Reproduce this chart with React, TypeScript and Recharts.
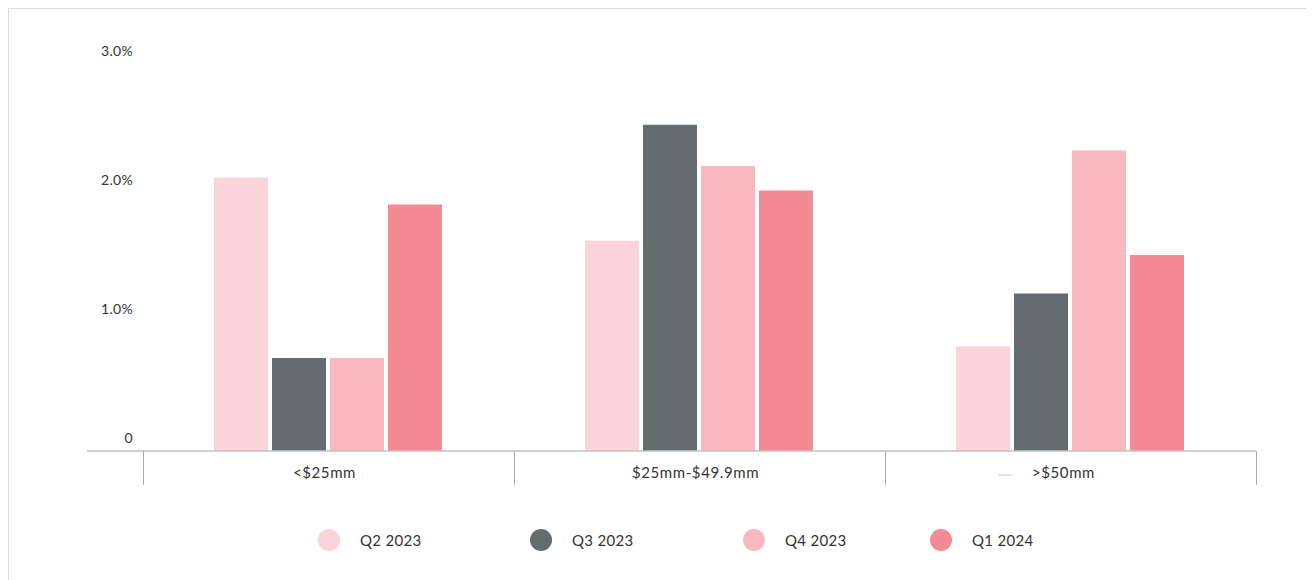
import React from "react";
import { BarChart, Bar, XAxis, YAxis, Legend } from "recharts";

// deal size buckets and quarterly rates (%)
const categories = ["<$25mm", "$25mm-$49.9mm", ">$50mm"];
const q2_2023 = [2.12, 1.63, 0.81];
const q3_2023 = [0.72, 2.53, 1.22];
const q4_2023 = [0.72, 2.21, 2.33];
const q1_2024 = [1.91, 2.02, 1.52];
const yTicks = [0, 1, 2, 3];

const series = [
  { key: "q2", name: "Q2 2023", color: "#fad4d9", values: q2_2023 },
  { key: "q3", name: "Q3 2023", color: "#656c6f", values: q3_2023 },
  { key: "q4", name: "Q4 2023", color: "#f8b8c0", values: q4_2023 },
  { key: "q1", name: "Q1 2024", color: "#f48a93", values: q1_2024 },
];

const data = categories.map((name, i) => {
  const row: Record<string, string | number> = { name };
  series.forEach((s) => (row[s.key] = s.values[i]));
  return row;
});

const FONT = "Lato, 'Open Sans', sans-serif";
const W = 1304;
const H = 575;
const M = { top: 55, right: 57, left: 0, bottom: 32 };
const Y_W = 78;
const PAD_L = 56;
const BAND = (W - M.left - M.right - Y_W - PAD_L) / categories.length;

const CategoryTick = (props: any) => {
  const { x, y, payload, index } = props;
  const half = BAND / 2;
  return (
    <g>
      <line x1={x - half} x2={x - half} y1={y} y2={y + 34} stroke="#a9a9a9" shapeRendering="crispEdges" />
      <line x1={x + half} x2={x + half} y1={y} y2={y + 34} stroke="#a9a9a9" shapeRendering="crispEdges" />
      {index === 2 && (
        <line x1={x - 72} x2={x - 58} y1={y + 24} y2={y + 24} stroke="#c8c8c8" />
      )}
      <text
        x={x + (index === 2 ? -7 : -4)}
        y={y + 21}
        textAnchor="middle"
        dominantBaseline="central"
        fontSize={15}
        letterSpacing={0.6}
        fill="#333"
        fontFamily={FONT}
      >
        {payload.value}
      </text>
    </g>
  );
};

const ValueTick = (props: any) => {
  const { x, y, payload } = props;
  const v = payload.value as number;
  return (
    <text
      x={x + 46}
      y={y - 14}
      textAnchor="end"
      dominantBaseline="central"
      fontSize={14}
      letterSpacing={0.3}
      fill="#333"
      fontFamily={FONT}
    >
      {v === 0 ? "0" : `${v.toFixed(1)}%`}
    </text>
  );
};

const itemWidths = [212, 213, 187, 120];

const LegendContent = () => (
  <div style={{ display: "flex", height: 24, alignItems: "center", paddingLeft: 309, fontFamily: FONT }}>
    {series.map((s, i) => (
      <div key={s.key} style={{ width: itemWidths[i], display: "flex", alignItems: "center" }}>
        <span
          style={{ width: 22, height: 22, borderRadius: "50%", background: s.color, display: "inline-block" }}
        />
        <span style={{ marginLeft: 20, fontSize: 15, letterSpacing: 0.3, color: "#333" }}>{s.name}</span>
      </div>
    ))}
  </div>
);

export default function App() {
  return (
    <div style={{ width: W, height: 580, border: "1px solid #dcdcdc", position: "relative" }}>
      <BarChart width={W} height={H} data={data} margin={M} barCategoryGap={71} barGap={4}>
        <XAxis
          dataKey="name"
          height={77}
          padding={{ left: PAD_L, right: 0 }}
          axisLine={{ stroke: "#c2c2c2", strokeWidth: 1.5 }}
          tickLine={false}
          tickSize={0}
          tickMargin={0}
          interval={0}
          tick={<CategoryTick />}
        />
        <YAxis
          width={Y_W}
          domain={[0, 3]}
          ticks={yTicks}
          axisLine={false}
          tickLine={false}
          tickSize={0}
          tickMargin={0}
          tick={<ValueTick />}
        />
        <Legend verticalAlign="bottom" content={<LegendContent />} />
        {series.map((s) => (
          <Bar key={s.key} dataKey={s.key} name={s.name} fill={s.color} isAnimationActive={false} />
        ))}
      </BarChart>
    </div>
  );
}
